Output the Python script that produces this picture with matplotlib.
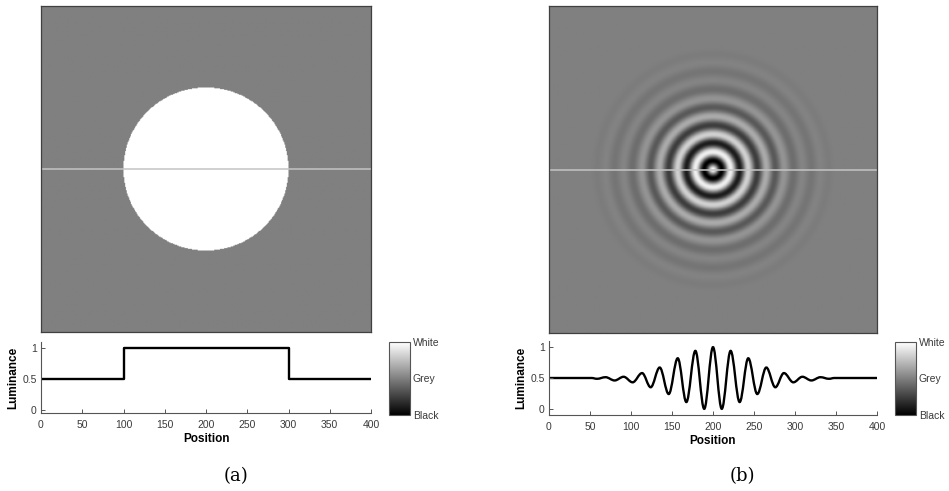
import numpy as np
import matplotlib
matplotlib.use("Agg")
import matplotlib.pyplot as plt
from matplotlib.path import Path
from matplotlib.patches import PathPatch

plt.rcParams['font.family'] = ['Liberation Sans', 'DejaVu Sans']

# ---------------- data ----------------
pos_a = [0, 100, 100, 300, 300, 400]
lum_a = [0.5, 0.5, 1.0, 1.0, 0.5, 0.5]

pos_b = [0, 52, 58.5, 69, 80, 91, 102, 113.5, 124, 135, 146, 157, 167.5,
         178.5, 189.3, 200, 210.7, 221.5, 232.5, 243, 254, 265, 276,
         286.5, 298, 309, 320, 331, 341.5, 348, 400]
lum_b = [0.5, 0.5, 0.487, 0.513, 0.46, 0.52, 0.43, 0.58, 0.35, 0.67, 0.24,
         0.82, 0.11, 0.94, 0.0, 1.0, 0.0, 0.94, 0.11, 0.82, 0.24, 0.67,
         0.35, 0.58, 0.43, 0.52, 0.46, 0.513, 0.487, 0.5, 0.5]

x_ticks = [0, 50, 100, 150, 200, 250, 300, 350, 400]
y_ticks = [0, 0.5, 1]
y_ticklabels = ['0', '0.5', '1']
cbar_labels = ['Black', 'Grey', 'White']
panel_labels = ['(a)', '(b)']
x_label = 'Position'
y_label = 'Luminance'
image_size = 400


def eased(xq, xs, ys):
    """Evaluate the smooth (half-cosine) profile between the read points."""
    xq = np.asarray(xq, dtype=float)
    out = np.full(xq.shape, ys[-1], dtype=float)
    for i in range(len(xs) - 1):
        x0, x1, y0, y1 = xs[i], xs[i + 1], ys[i], ys[i + 1]
        if x1 <= x0:
            continue
        m = (xq >= x0) & (xq <= x1)
        t = (xq[m] - x0) / (x1 - x0)
        out[m] = y0 + (y1 - y0) * (1 - np.cos(np.pi * t)) / 2
    return out


def radial_image(xs, ys, n):
    g = np.arange(n) + 0.5
    X, Y = np.meshgrid(g, g)
    c = n / 2
    r = np.sqrt((X - c) ** 2 + (Y - c) ** 2)
    return eased(c + r, xs, ys)


def smooth_path(xs, ys, k=0.36):
    verts = [(xs[0], ys[0])]
    codes = [Path.MOVETO]
    for i in range(len(xs) - 1):
        x0, x1, y0, y1 = xs[i], xs[i + 1], ys[i], ys[i + 1]
        d = (x1 - x0) * k
        verts += [(x0 + d, y0), (x1 - d, y1), (x1, y1)]
        codes += [Path.CURVE4] * 3
    return Path(verts, codes)


W, H = 949, 491
fig = plt.figure(figsize=(W / 100, H / 100), dpi=100)


def fr(x0, y_top, w, h):
    return [x0 / W, (H - y_top - h) / H, w / W, h / H]


panels = [
    dict(img=fr(41, 6, 330, 326), prof=fr(41, 342, 330, 71), ylim=(-0.05, 1.1),
         cb=fr(389, 342, 21, 73), xs=pos_a, ys=lum_a, smooth=False, lab_x=236),
    dict(img=fr(549, 6, 328, 327), prof=fr(549, 341, 328, 74), ylim=(-0.1, 1.1),
         cb=fr(895, 342, 21, 73), xs=pos_b, ys=lum_b, smooth=True, lab_x=742),
]

tick_color = '#3a3a3a'
for p, plabel in zip(panels, panel_labels):
    # image
    axi = fig.add_axes(p['img'])
    img = radial_image(p['xs'], p['ys'], image_size)
    im = axi.imshow(img, cmap='gray', vmin=0, vmax=1, extent=[0, image_size, image_size, 0],
                    aspect='auto', interpolation='bilinear')
    axi.axhline(image_size / 2, color='#c4c4c4', lw=1.1)
    axi.set_xticks([])
    axi.set_yticks([])
    for s in axi.spines.values():
        s.set_color('#404040')
        s.set_linewidth(0.9)

    # profile
    axp = fig.add_axes(p['prof'])
    if p['smooth']:
        axp.add_patch(PathPatch(smooth_path(p['xs'], p['ys']), fill=False,
                                edgecolor='black', lw=1.7, capstyle='butt'))
    else:
        axp.plot(p['xs'], p['ys'], color='black', lw=1.7)
    axp.set_xlim(0, image_size)
    axp.set_ylim(*p['ylim'])
    axp.set_xticks(x_ticks)
    axp.set_yticks(y_ticks)
    axp.set_yticklabels(y_ticklabels)
    axp.tick_params(direction='in', length=3, width=0.7, colors='#555555',
                    labelcolor=tick_color, labelsize=7.5)
    axp.tick_params(axis='x', pad=5)
    axp.tick_params(axis='y', pad=3)
    axp.spines['top'].set_visible(False)
    axp.spines['right'].set_visible(False)
    for s in ['left', 'bottom']:
        axp.spines[s].set_color('#555555')
        axp.spines[s].set_linewidth(0.8)
    axp.set_xlabel(x_label, fontsize=8.5, fontweight='bold', labelpad=2)
    axp.set_ylabel(y_label, fontsize=8.5, fontweight='bold', labelpad=2)

    # colorbar
    axc = fig.add_axes(p['cb'])
    cb = fig.colorbar(im, cax=axc, ticks=[0, 0.5, 1])
    cb.ax.set_yticklabels(cbar_labels)
    cb.ax.tick_params(length=0, labelsize=7.5, labelcolor=tick_color, pad=2)
    cb.outline.set_edgecolor('#555555')
    cb.outline.set_linewidth(0.8)

    fig.text(p['lab_x'] / W, 1 - 476 / H, plabel, ha='center', va='center',
             fontsize=13, family=['DejaVu Serif'])

fig.savefig('out.png', dpi=100, facecolor='white')
